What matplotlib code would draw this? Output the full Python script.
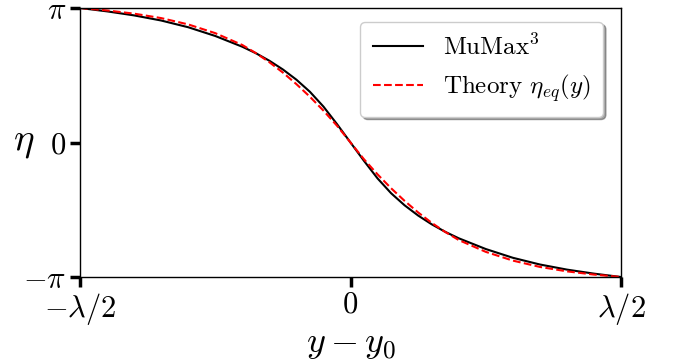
import numpy as np
import matplotlib
matplotlib.use("Agg")
import matplotlib.pyplot as plt

# positions in units of lambda, angle in units of pi
y_pos = [-0.50, -0.45, -0.40, -0.35, -0.30, -0.25, -0.20, -0.175, -0.15, -0.125, -0.10, -0.075,
         -0.05, -0.025, 0.00, 0.025, 0.05, 0.075, 0.10, 0.125, 0.15, 0.175, 0.20, 0.25, 0.30,
         0.35, 0.40, 0.45, 0.50]
eta_mumax = [1.000, 0.975, 0.945, 0.907, 0.857, 0.792, 0.712, 0.664, 0.608, 0.543, 0.467, 0.377,
             0.267, 0.137, 0.000, -0.137, -0.267, -0.377, -0.467, -0.543, -0.608, -0.664, -0.712,
             -0.792, -0.857, -0.907, -0.945, -0.975, -1.000]
eta_theory = [1.000, 0.982, 0.958, 0.925, 0.878, 0.813, 0.725, 0.665, 0.597, 0.520, 0.434, 0.340,
              0.237, 0.125, 0.000, -0.125, -0.237, -0.340, -0.434, -0.520, -0.597, -0.665, -0.725,
              -0.813, -0.878, -0.925, -0.958, -0.982, -1.000]

xticks = [-0.5, 0.0, 0.5]
xtick_labels = [r"$-\lambda/2$", r"$0$", r"$\lambda/2$"]
yticks = [-1.0, 0.0, 1.0]
ytick_labels = [r"$-\pi$", r"$0$", r"$\pi$"]


def main():
    plt.rcParams["font.family"] = "serif"
    plt.rcParams["font.serif"] = ["cmr10"]
    plt.rcParams["mathtext.fontset"] = "cm"
    plt.rcParams["axes.formatter.use_mathtext"] = True

    fig = plt.figure(figsize=(6.78, 3.62), dpi=100)
    ax = fig.add_axes([80 / 678, 1 - 277 / 362, 541 / 678, 269 / 362])

    ax.plot(y_pos, eta_mumax, color="black", lw=1.5, label=r"MuMax$^3$")
    ax.plot(y_pos, eta_theory, color="red", lw=1.5, ls="--", label=r"Theory $\eta_{eq}(y)$")

    ax.set_xlim(-0.5, 0.5)
    ax.set_ylim(-1.0, 1.0)
    ax.set_xticks(xticks)
    ax.set_xticklabels(xtick_labels)
    ax.set_yticks(yticks)
    ax.set_yticklabels(ytick_labels)
    ax.tick_params(direction="out", length=7, width=2.5, labelsize=22, pad=3)
    for sp in ax.spines.values():
        sp.set_linewidth(1.0)

    ax.set_xlabel(r"$y - y_0$", fontsize=26, labelpad=2)
    ax.set_ylabel(r"$\eta$", fontsize=28, rotation=0, va="center", ha="center")
    ax.yaxis.set_label_coords(-0.105, 0.5)

    ax.legend(loc="upper right", fontsize=18, shadow=True, fancybox=True,
              framealpha=1.0, edgecolor="0.8", borderpad=0.5, handlelength=2.0,
              bbox_to_anchor=(0.99, 0.995))

    fig.savefig("out.png", dpi=100)


if __name__ == "__main__":
    main()
